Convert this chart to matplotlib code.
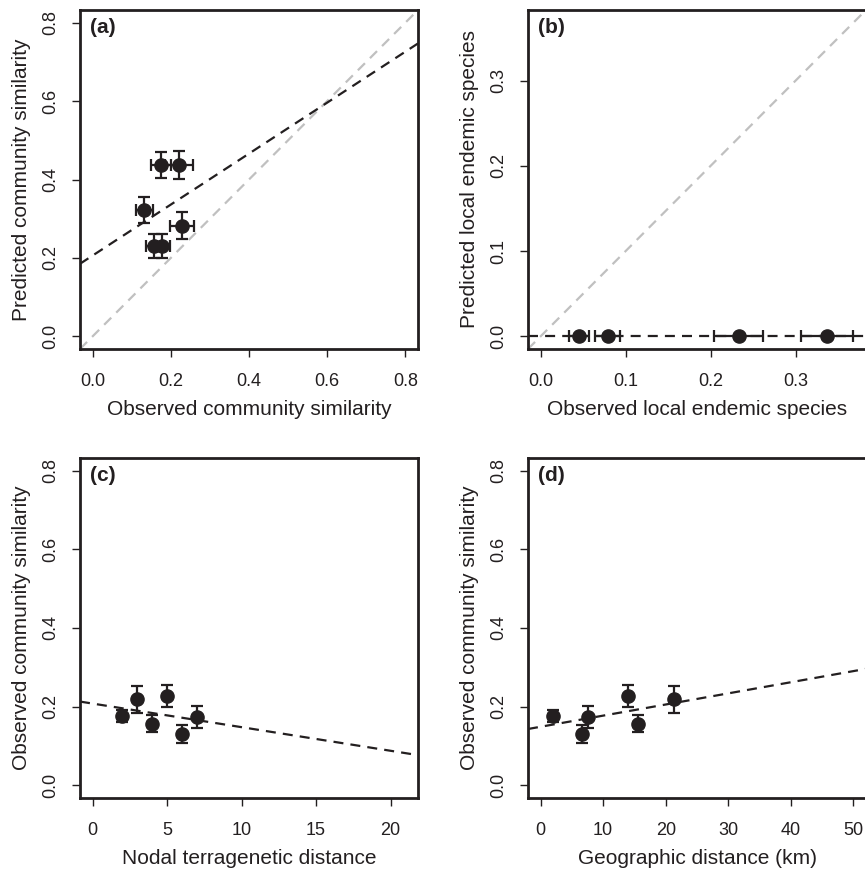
import numpy as np
import matplotlib
matplotlib.use("Agg")
import matplotlib.pyplot as plt
from matplotlib import font_manager

# panel (a): predicted vs observed community similarity
obs_sim_a = [0.175, 0.221, 0.132, 0.229, 0.157, 0.177]
obs_sim_a_err = [0.025, 0.035, 0.022, 0.030, 0.020, 0.020]
pred_sim = [0.437, 0.437, 0.322, 0.282, 0.231, 0.231]
pred_sim_err = [0.034, 0.035, 0.033, 0.034, 0.031, 0.031]
fit_a = (0.206, 0.650)  # intercept, slope

# panel (b): local endemic species
obs_endemic = [0.045, 0.079, 0.233, 0.337]
obs_endemic_err = [0.012, 0.015, 0.029, 0.031]
pred_endemic = [0.0, 0.0, 0.0, 0.0]
fit_b = (0.0, 0.0)

# panels (c) and (d): observed similarity vs distance
nodal_dist = [2, 3, 4, 5, 6, 7]
geo_dist = [2.0, 21.4, 15.5, 14.0, 6.7, 7.6]
obs_sim = [0.176, 0.219, 0.157, 0.226, 0.131, 0.173]
obs_sim_err = [0.015, 0.034, 0.021, 0.028, 0.023, 0.028]
fit_c = (0.208, -0.0060)
fit_d = (0.149, 0.00283)

INK = '#231f20'
GREY = '#c0c0c0'
DASH = (0, (4.5, 3.2))

names = {f.name for f in font_manager.fontManager.ttflist}
narrow = 'Liberation Sans Narrow' if 'Liberation Sans Narrow' in names else 'Liberation Sans'
plt.rcParams['font.family'] = 'Liberation Sans'

W, H = 865, 869
fig = plt.figure(figsize=(W / 100, H / 100), dpi=100)


def make_axes(x0, y_top, w=338, h=339):
    return fig.add_axes([x0 / W, 1 - (y_top + h) / H, w / W, h / H])


def r_lim(lo, hi):
    pad = 0.04 * (hi - lo)
    return lo - pad, hi + pad


def style(ax, label, xlabel, ylabel, xticks, yticks, xfmt, yfmt, show_right=True):
    for side, sp in ax.spines.items():
        sp.set_linewidth(2.0)
        sp.set_color(INK)
    if not show_right:
        ax.spines['right'].set_visible(False)
    ax.set_xticks(xticks)
    ax.set_yticks(yticks)
    ax.set_xticklabels([xfmt.format(v) for v in xticks], fontfamily=narrow, fontsize=13)
    ax.set_yticklabels([yfmt.format(v) for v in yticks], fontsize=13, rotation=90, va='center')
    ax.tick_params(direction='out', length=6, width=1.0, color=INK, labelcolor=INK)
    ax.tick_params(axis='x', pad=11)
    ax.tick_params(axis='y', pad=9)
    ax.set_xlabel(xlabel, fontfamily=narrow, fontsize=15, color=INK)
    ax.set_ylabel(ylabel, fontsize=15, color=INK)
    ax.xaxis.label.set_va('center')
    ax.yaxis.label.set_va('center')
    ax.xaxis.set_label_coords(0.5, -0.178)
    ax.yaxis.set_label_coords(-0.172, 0.5)
    ax.text(0.03, 0.976, label, transform=ax.transAxes, fontsize=15,
            fontweight='bold', ha='left', va='top', color=INK)


def dots(ax, x, y, xerr=None, yerr=None):
    ax.errorbar(x, y, xerr=xerr, yerr=yerr, fmt='o', color=INK, ms=9.5,
                elinewidth=1.6, capsize=4.5, capthick=1.6, zorder=4)


# (a)
ax = make_axes(80, 10)
ax.set_xlim(*r_lim(0, 0.8))
ax.set_ylim(*r_lim(0, 0.8))
ax.axline((0, 0), slope=1, color=GREY, lw=1.6, ls=DASH)
ax.axline((0, fit_a[0]), slope=fit_a[1], color=INK, lw=1.6, ls=DASH)
dots(ax, obs_sim_a, pred_sim, obs_sim_a_err, pred_sim_err)
style(ax, '(a)', 'Observed community similarity', 'Predicted community similarity',
      [0, 0.2, 0.4, 0.6, 0.8], [0, 0.2, 0.4, 0.6, 0.8], '{:.1f}', '{:.1f}')

# (b)
ax = make_axes(528, 10)
ax.set_xlim(*r_lim(0, 0.368))
ax.set_ylim(*r_lim(0, 0.368))
ax.axline((0, 0), slope=1, color=GREY, lw=1.6, ls=DASH)
ax.axline((0, fit_b[0]), slope=fit_b[1], color=INK, lw=1.6, ls=DASH)
dots(ax, obs_endemic, pred_endemic, obs_endemic_err, None)
style(ax, '(b)', 'Observed local endemic species', 'Predicted local endemic species',
      [0, 0.1, 0.2, 0.3], [0, 0.1, 0.2, 0.3], '{:.1f}', '{:.1f}', show_right=False)

# (c)
ax = make_axes(80, 458, h=340)
ax.set_xlim(*r_lim(0, 21))
ax.set_ylim(*r_lim(0, 0.8))
ax.axline((0, fit_c[0]), slope=fit_c[1], color=INK, lw=1.6, ls=DASH)
dots(ax, nodal_dist, obs_sim, None, obs_sim_err)
style(ax, '(c)', 'Nodal terragenetic distance', 'Observed community similarity',
      [0, 5, 10, 15, 20], [0, 0.2, 0.4, 0.6, 0.8], '{:d}', '{:.1f}')

# (d)
ax = make_axes(528, 458, h=340)
ax.set_xlim(*r_lim(0, 50))
ax.set_ylim(*r_lim(0, 0.8))
ax.axline((0, fit_d[0]), slope=fit_d[1], color=INK, lw=1.6, ls=DASH)
dots(ax, geo_dist, obs_sim, None, obs_sim_err)
style(ax, '(d)', 'Geographic distance (km)', 'Observed community similarity',
      [0, 10, 20, 30, 40, 50], [0, 0.2, 0.4, 0.6, 0.8], '{:d}', '{:.1f}', show_right=False)

fig.savefig('out.png', dpi=100)
